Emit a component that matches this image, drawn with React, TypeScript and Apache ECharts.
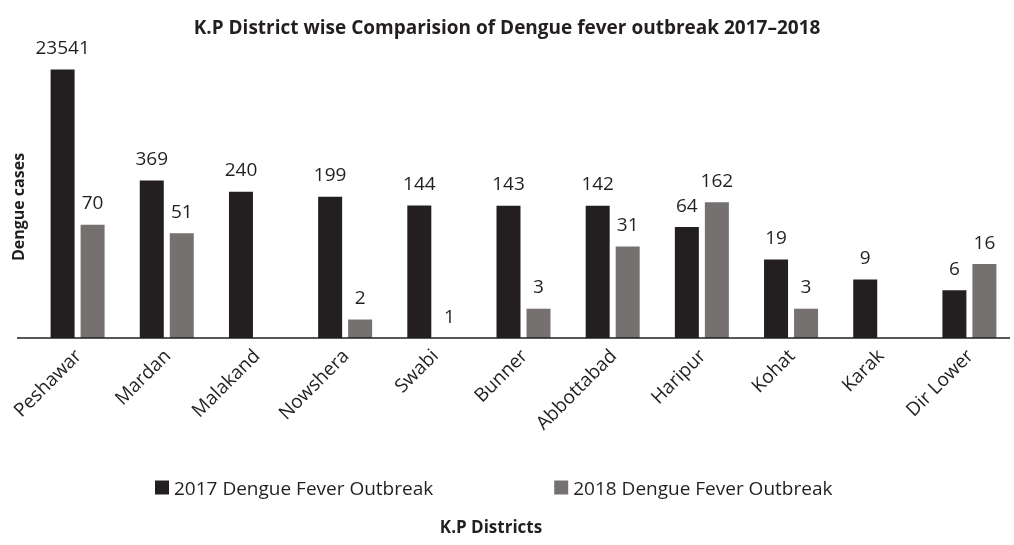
import React, { useEffect, useRef } from "react";
import * as echarts from "echarts";

const districts = ["Peshawar", "Mardan", "Malakand", "Nowshera", "Swabi", "Bunner", "Abbottabad", "Haripur", "Kohat", "Karak", "Dir Lower"];
const cases2017: (number | null)[] = [23541, 369, 240, 199, 144, 143, 142, 64, 19, 9, 6];
const cases2018: (number | null)[] = [70, 51, null, 2, 1, 3, 31, 162, 3, null, 16];

const FONT = "'Open Sans', 'Noto Sans', sans-serif";
const DARK = "#231f20";
const GREY = "#767171";

export default function App() {
  const ref = useRef<HTMLDivElement>(null);
  useEffect(() => {
    if (!ref.current) return;
    const chart = echarts.init(ref.current, undefined, { renderer: "svg" });
    const label = {
      show: true,
      position: "top" as const,
      distance: 13,
      color: DARK,
      fontFamily: FONT,
      fontSize: 19,
    };
    chart.setOption({
      animation: false,
      title: {
        text: "K.P District wise Comparision of Dengue fever outbreak 2017\u20132018",
        left: "center",
        top: 12,
        textStyle: { fontFamily: FONT, fontSize: 19, fontWeight: "bold", color: DARK },
      },
      legend: {
        left: 150,
        top: 473,
        itemWidth: 14,
        itemHeight: 14,
        itemGap: 121,
        icon: "rect",
        textStyle: { fontFamily: FONT, fontSize: 19, color: DARK },
      },
      grid: { left: 33, right: 0, top: 31, bottom: 207 },
      xAxis: {
        type: "category",
        data: districts,
        axisLine: { show: false },
        axisTick: { show: false },
        axisLabel: { rotate: 45, margin: 14, fontFamily: FONT, fontSize: 19, color: DARK, interval: 0 },
      },
      yAxis: {
        type: "log",
        logBase: 10,
        min: 1,
        max: 100000,
        axisLine: { show: false },
        axisTick: { show: false },
        axisLabel: { show: false },
        splitLine: { show: false },
      },
      series: [
        {
          name: "2017 Dengue Fever Outbreak",
          type: "bar",
          data: cases2017,
          barWidth: 24,
          barGap: "25%",
          itemStyle: { color: DARK },
          label,
        },
        {
          name: "2018 Dengue Fever Outbreak",
          type: "bar",
          data: cases2018,
          barWidth: 24,
          itemStyle: { color: GREY },
          label,
        },
      ],
      graphic: [
        {
          type: "line",
          shape: { x1: 17, y1: 338, x2: 1010, y2: 338 },
          style: { stroke: DARK, lineWidth: 1.5 },
          z: 10,
        },
        {
          type: "text",
          x: 18,
          y: 207,
          rotation: Math.PI / 2,
          style: {
            text: "Dengue cases",
            fontFamily: FONT,
            fontSize: 16,
            fontWeight: "bold",
            fill: DARK,
            align: "center",
            verticalAlign: "middle",
          },
        },
        {
          type: "text",
          x: 491,
          y: 526,
          style: {
            text: "K.P Districts",
            fontFamily: FONT,
            fontSize: 17,
            fontWeight: "bold",
            fill: DARK,
            align: "center",
            verticalAlign: "middle",
          },
        },
      ],
    });
    return () => chart.dispose();
  }, []);
  return <div ref={ref} style={{ position: "fixed", left: 0, top: 0, width: 1014, height: 545 }} />;
}
